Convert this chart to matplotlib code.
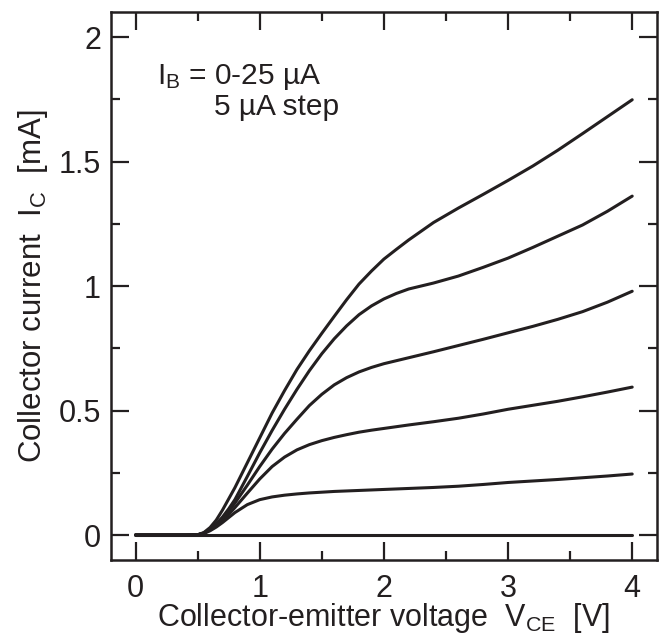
import numpy as np
import matplotlib.pyplot as plt

plt.rcParams['font.family'] = ['Liberation Sans', 'DejaVu Sans']
plt.rcParams['mathtext.fontset'] = 'custom'
plt.rcParams['mathtext.rm'] = 'Liberation Sans'

# collector-emitter voltage [V]
vce = [0, 0.4, 0.5, 0.55, 0.6, 0.65, 0.7, 0.75, 0.8, 0.9, 1.0, 1.1, 1.2, 1.3, 1.4, 1.5, 1.6,
       1.7, 1.8, 1.9, 2.0, 2.1, 2.2, 2.4, 2.6, 2.8, 3.0, 3.2, 3.4, 3.6, 3.8, 4.0]

# collector current [mA] for IB = 0, 5, 10, 15, 20, 25 uA
ic_0 = [0, 0, 0, 0, 0, 0, 0, 0, 0, 0, 0, 0, 0, 0, 0, 0, 0,
        0, 0, 0, 0, 0, 0, 0, 0, 0, 0, 0, 0, 0, 0, 0]
ic_5 = [0, 0, 0.001, 0.006, 0.017, 0.032, 0.05, 0.07, 0.09, 0.122, 0.142, 0.153, 0.16, 0.165, 0.169, 0.172, 0.175,
        0.177, 0.179, 0.181, 0.183, 0.185, 0.187, 0.191, 0.196, 0.203, 0.211, 0.217, 0.223, 0.23, 0.237, 0.245]
ic_10 = [0, 0, 0.001, 0.007, 0.02, 0.037, 0.058, 0.083, 0.11, 0.168, 0.225, 0.275, 0.313, 0.342, 0.363, 0.379, 0.392,
         0.403, 0.413, 0.421, 0.428, 0.435, 0.442, 0.455, 0.469, 0.486, 0.505, 0.521, 0.537, 0.555, 0.574, 0.594]
ic_15 = [0, 0, 0.001, 0.008, 0.022, 0.042, 0.066, 0.095, 0.128, 0.2, 0.275, 0.345, 0.408, 0.465, 0.52, 0.565, 0.603,
         0.632, 0.655, 0.673, 0.688, 0.7, 0.712, 0.736, 0.761, 0.786, 0.812, 0.838, 0.866, 0.897, 0.935, 0.979]
ic_20 = [0, 0, 0.001, 0.008, 0.023, 0.045, 0.072, 0.105, 0.142, 0.235, 0.33, 0.42, 0.505, 0.585, 0.66, 0.728, 0.788,
         0.84, 0.885, 0.92, 0.948, 0.97, 0.988, 1.012, 1.04, 1.075, 1.112, 1.155, 1.2, 1.245, 1.3, 1.361]
ic_25 = [0, 0, 0.001, 0.01, 0.03, 0.06, 0.1, 0.145, 0.19, 0.29, 0.39, 0.49, 0.58, 0.665, 0.74, 0.81, 0.878,
         0.945, 1.008, 1.06, 1.108, 1.147, 1.185, 1.255, 1.313, 1.368, 1.424, 1.482, 1.545, 1.612, 1.68, 1.748]

curves = [ic_0, ic_5, ic_10, ic_15, ic_20, ic_25]

fig = plt.figure(figsize=(6.61, 6.37), dpi=100)
ax = fig.add_subplot(111)
fig.subplots_adjust(left=0.1675, right=0.994, bottom=0.121, top=0.981)

for ic in curves:
    ax.plot(vce, ic, color='#231f20', lw=2.2, solid_capstyle='round')

ax.set_xlim(-0.2, 4.2)
ax.set_ylim(-0.1, 2.1)
ax.set_xticks([0, 1, 2, 3, 4])
ax.set_xticks(np.arange(0, 4.1, 0.5), minor=True)
ax.set_yticks([0, 0.5, 1, 1.5, 2])
ax.set_yticklabels(['0', '0.5', '1', '1.5', '2'])
ax.set_yticks(np.arange(0, 2.01, 0.25), minor=True)

ax.tick_params(which='both', direction='in', top=True, right=True,
               width=1.6, color='#231f20', labelsize=22, labelcolor='#231f20')
ax.tick_params(which='major', length=13)
ax.tick_params(which='minor', length=6.5)
ax.tick_params(axis='y', which='major', pad=7)
ax.tick_params(axis='x', which='major', pad=10)
for s in ax.spines.values():
    s.set_linewidth(1.8)
    s.set_color('#231f20')

ax.set_xlabel(r'Collector-emitter voltage  $\mathregular{V_{CE}}$  [V]',
              fontsize=22, color='#231f20', labelpad=-2)
ax.set_ylabel(r'Collector current  $\mathregular{I_C}$  [mA]',
              fontsize=22.5, color='#231f20', labelpad=6)

ax.text(0.17, 1.84, r'$\mathregular{I_B}$ = 0-25 µA', fontsize=21.5,
        color='#231f20', va='center', ha='left')
ax.text(0.63, 1.72, '5 µA step', fontsize=21.5,
        color='#231f20', va='center', ha='left')

plt.savefig('out.png', dpi=100)
